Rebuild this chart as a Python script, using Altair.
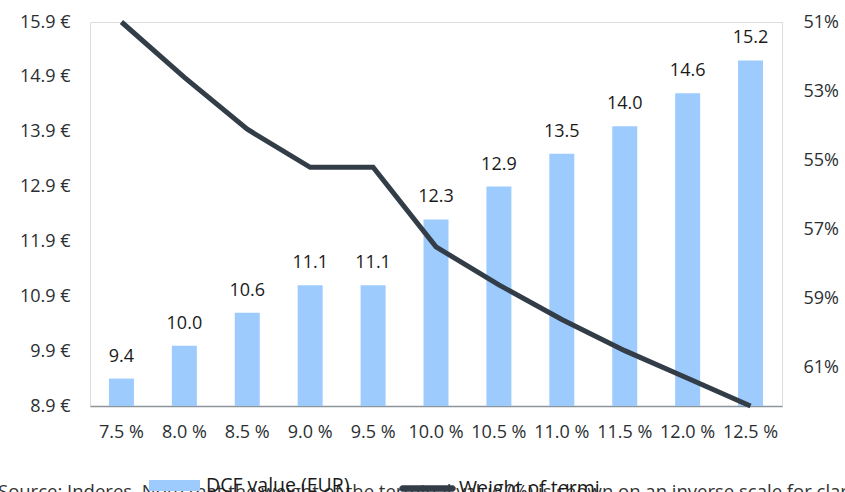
import altair as alt
import pandas as pd

rates = ["7.5 %", "8.0 %", "8.5 %", "9.0 %", "9.5 %", "10.0 %", "10.5 %", "11.0 %", "11.5 %", "12.0 %", "12.5 %"]
dcf = [9.4, 10.0, 10.6, 11.1, 11.1, 12.3, 12.9, 13.5, 14.0, 14.6, 15.2]
weight = [51.0, 52.6, 54.1, 55.2, 55.2, 57.5, 58.6, 59.6, 60.5, 61.3, 62.1]
left_ticks = [8.9, 9.9, 10.9, 11.9, 12.9, 13.9, 14.9, 15.9]
right_ticks = [51, 53, 55, 57, 59, 61]
bar_name = "DCF value (EUR)"
line_name = "Weight of terminal value (%)"
source = "Source: Inderes. Note that the weight of the terminal value (%) is shown on an inverse scale for clarity"

df = pd.DataFrame({"rate": rates, "dcf": dcf, "weight": weight,
                   "s1": bar_name, "s2": line_name})

FONT = "Open Sans"
FS = 18
LFS = 19.5
BLUE = "#9dcbfe"
DARK = "#333d48"
TXT = "#2b2f33"

x = alt.X("rate:N", sort=rates, title=None,
          scale=alt.Scale(paddingInner=0, paddingOuter=0),
          axis=alt.Axis(labelAngle=0, ticks=False, labelPadding=17, labelFontSize=FS,
                        labelColor=TXT, domainColor="#8c949c", domainWidth=1.5,
                        labelFont=FONT))

yl = alt.Y("dcf:Q", title=None,
           scale=alt.Scale(domain=[8.9, 15.9], zero=False, nice=False),
           axis=alt.Axis(values=left_ticks, labelExpr="format(datum.value, '.1f') + ' €'",
                         ticks=False, domain=False, grid=False, labelPadding=20,
                         labelFontSize=FS, labelColor=TXT, labelFont=FONT))

bars = alt.Chart(df).mark_bar(size=25).encode(
    x=x, y=yl, y2=alt.datum(8.9),
    color=alt.Color("s1:N", scale=alt.Scale(domain=[bar_name], range=[BLUE]), title=None,
                    legend=alt.Legend(orient="none", legendX=59, legendY=438, direction="horizontal",
                                      symbolType="M-1,-0.216 H1 V0.216 H-1 Z", symbolSize=2601,
                                      symbolStrokeWidth=0, labelFontSize=LFS, labelColor="#1a1a1a",
                                      labelFont=FONT, padding=0, labelOffset=6)),
)

labels = alt.Chart(df).mark_text(dy=-13, baseline="bottom", fontSize=FS, font=FONT,
                                 color="#1a1a1a").encode(
    x=x, y=yl, text=alt.Text("dcf:Q", format=".1f"))

capsule = ("M-0.893,-0.107 H0.893 A0.107,0.107 0 0 1 0.893,0.107 "
           "H-0.893 A0.107,0.107 0 0 1 -0.893,-0.107 Z")

line = alt.Chart(df).mark_line(strokeWidth=5, strokeJoin="miter").encode(
    x=x,
    y=alt.Y("weight:Q", title=None,
            scale=alt.Scale(domain=[51, 62.1], reverse=True, zero=False, nice=False),
            axis=alt.Axis(orient="right", values=right_ticks, labelExpr="datum.value + '%'",
                          ticks=False, domain=False, grid=False, labelPadding=21,
                          labelFontSize=FS, labelColor=TXT, labelFont=FONT)),
    stroke=alt.Stroke("s2:N", scale=alt.Scale(domain=[line_name], range=[DARK]), title=None,
                      legend=alt.Legend(orient="none", legendX=309, legendY=438, direction="horizontal",
                                        symbolType=capsule, symbolSize=3136, symbolStrokeWidth=0.5,
                                        symbolFillColor=DARK,
                                        labelFontSize=LFS, labelColor="#1a1a1a", labelFont=FONT,
                                        padding=0, labelOffset=3)),
)

src = alt.Chart(pd.DataFrame({"t": [source]})).mark_text(
    align="left", baseline="alphabetic", fontSize=18.5, font=FONT, color="#333").encode(
    x=alt.value(-92), y=alt.value(476), text="t:N")

chart = alt.layer(alt.layer(bars, labels), line, src).resolve_scale(
    y="independent", color="independent", stroke="independent"
).properties(
    width=692, height=384,
    autosize=alt.AutoSizeParams(type="none"),
    padding={"left": 90, "top": 22, "right": 63, "bottom": 86},
).configure_view(stroke=None).configure(background="white")

chart.save("out.html", embed_options={"renderer": "svg", "actions": False})
